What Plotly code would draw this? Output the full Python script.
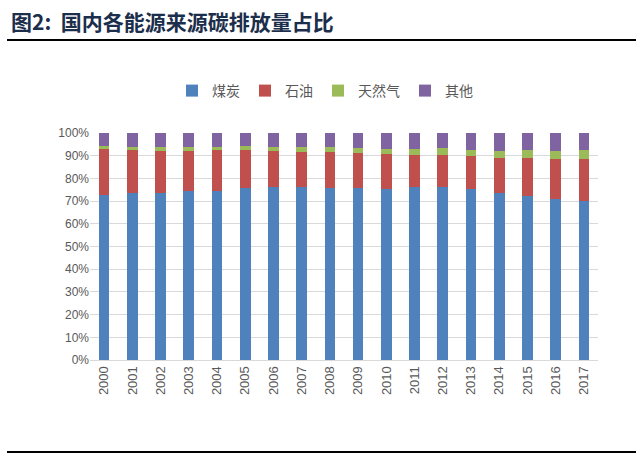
import plotly.graph_objects as go

years = [str(y) for y in range(2000, 2018)]
coal = [72.8, 73.4, 73.6, 74.6, 74.6, 75.9, 76.0, 76.0, 75.9, 75.9, 75.5, 76.4, 76.4, 75.3, 73.6, 72.2, 70.8, 70.2]
oil = [20.2, 19.1, 18.6, 17.6, 17.9, 16.7, 15.9, 15.5, 15.6, 15.2, 15.2, 14.1, 14.1, 14.6, 15.5, 16.9, 17.9, 18.5]
gas = [1.4, 1.2, 1.5, 1.5, 1.5, 1.5, 1.8, 2.2, 2.2, 2.3, 2.4, 2.6, 2.9, 2.8, 3.1, 3.4, 3.4, 4.0]
other = [5.6, 6.3, 6.3, 6.3, 6.0, 5.9, 6.3, 6.3, 6.3, 6.6, 6.9, 6.9, 6.6, 7.3, 7.8, 7.5, 7.9, 7.3]

series = [("煤炭", coal, "#4F81BD"), ("石油", oil, "#C0504D"),
          ("天然气", gas, "#9BBB59"), ("其他", other, "#8064A2")]

fig = go.Figure()
for name, vals, col in series:
    fig.add_trace(go.Bar(x=years, y=vals, name=name, marker=dict(color=col, line=dict(width=0))))

L, R, T, B = 90, 43, 133, 97
pw = 641 - L - R
ph = 457 - T - B

def px_x(x):
    return (x - L) / pw

def px_y(y):
    return (457 - B - y) / ph

fig.update_layout(
    barmode="stack",
    bargap=0.62,
    width=641, height=457,
    margin=dict(l=L, r=R, t=T, b=B, autoexpand=False),
    plot_bgcolor="white", paper_bgcolor="white",
    font=dict(family="Noto Sans CJK SC, Liberation Sans, sans-serif", color="#595959"),
    legend=dict(orientation="h", x=px_x(325), xanchor="center",
                y=px_y(91), yanchor="middle", font=dict(size=14, color="#595959"),
                traceorder="normal", itemwidth=30),
    yaxis=dict(range=[0, 100], dtick=10, ticksuffix="%", showgrid=True, gridcolor="#D9D9D9",
               gridwidth=1, zeroline=False, tickfont=dict(size=12, family="Liberation Sans, sans-serif", color="#595959"),
               ticks="", fixedrange=True),
    xaxis=dict(type="category", tickangle=-90, showline=True, linecolor="#D9D9D9", linewidth=1,
               tickfont=dict(size=13, family="Liberation Sans, sans-serif", color="#595959"), ticks=""),
    showlegend=True,
)

fig.add_annotation(xref="paper", yref="paper", x=px_x(9), y=px_y(21), xanchor="left", yanchor="middle",
                   text="<b>图2:  国内各能源来源碳排放量占比</b>", showarrow=False,
                   font=dict(size=21, color="#1B2E4B", family="Noto Sans CJK SC, sans-serif"))
fig.add_shape(type="line", xref="paper", yref="paper", x0=px_x(7), x1=px_x(636), y0=px_y(40), y1=px_y(40),
              line=dict(color="black", width=2))
fig.add_shape(type="line", xref="paper", yref="paper", x0=px_x(7), x1=px_x(636), y0=px_y(452), y1=px_y(452),
              line=dict(color="black", width=2))

fig.write_html("out.html", config={"displayModeBar": False},
               post_script="document.body.style.margin='0';document.body.style.overflow='hidden';")
